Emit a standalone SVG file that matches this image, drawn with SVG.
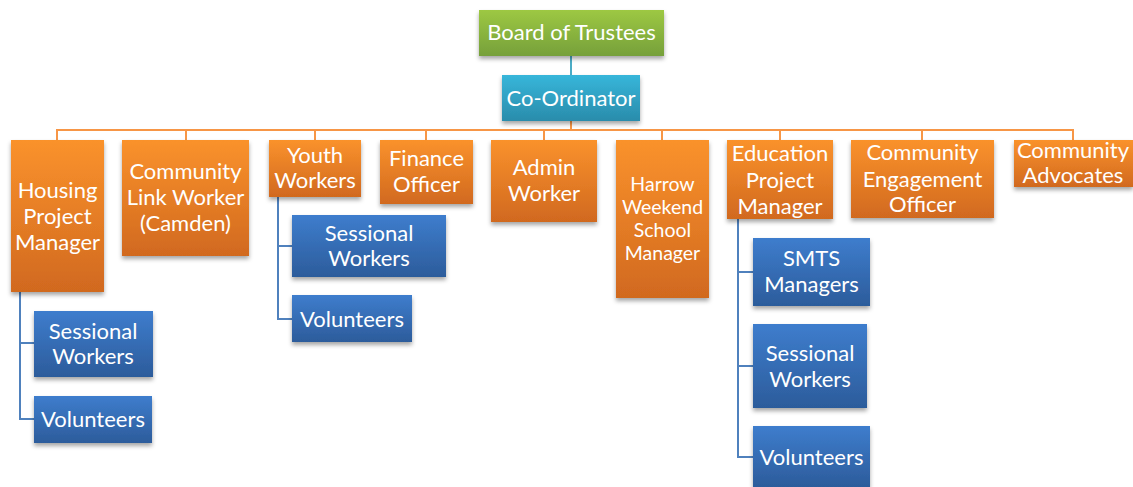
<svg xmlns="http://www.w3.org/2000/svg" width="1133" height="487" viewBox="0 0 1133 487">
<defs>
<linearGradient id="gOr" x1="0" y1="0" x2="0" y2="1"><stop offset="0" stop-color="#FA922C"/><stop offset="1" stop-color="#D1691F"/></linearGradient>
<linearGradient id="gBl" x1="0" y1="0" x2="0" y2="1"><stop offset="0" stop-color="#3E7DCD"/><stop offset="1" stop-color="#2C5C9B"/></linearGradient>
<linearGradient id="gGr" x1="0" y1="0" x2="0" y2="1"><stop offset="0" stop-color="#9DC843"/><stop offset="1" stop-color="#76A03A"/></linearGradient>
<linearGradient id="gTe" x1="0" y1="0" x2="0" y2="1"><stop offset="0" stop-color="#37B6DA"/><stop offset="1" stop-color="#2A8CAB"/></linearGradient>
<filter id="sh" x="-10%" y="-10%" width="120%" height="130%"><feDropShadow dx="0" dy="3" stdDeviation="2" flood-color="#000" flood-opacity="0.35"/></filter>
</defs>
<style>
text{font-family:Lato,"Noto Sans","Liberation Sans",sans-serif;fill:#fff;text-anchor:middle;font-size:22px}
.sm{font-size:19.5px}
.or{fill:url(#gOr);filter:url(#sh)}
.bl{fill:url(#gBl);filter:url(#sh)}
.oc{stroke:#F79646;stroke-width:2;fill:none}
.bc{stroke:#4F81BD;stroke-width:2;fill:none}
</style>
<rect width="1133" height="487" fill="#fff"/>
<g id="connectors">
<path class="bc" d="M571 56V76" style="stroke:#4BACC6"/>
<path class="oc" d="M571 121V130M57 140V130H1073V140M186 130V140M315 130V140M426 130V140M544 130V140M662 130V140M780 130V140M922 130V140"/>
<path class="bc" d="M20 292V419H34M20 343H34"/>
<path class="bc" d="M278 197V319H292M278 246H292"/>
<path class="bc" d="M738 218V457H753M738 272H753M738 366H753"/>
</g>
<g id="board"><rect x="479" y="10" width="185" height="46" fill="url(#gGr)" filter="url(#sh)"/><text x="571.5" y="40">Board of Trustees</text></g>
<g id="coordinator"><rect x="502" y="75" width="138" height="46" fill="url(#gTe)" filter="url(#sh)"/><text x="571" y="106">Co-Ordinator</text></g>
<g id="housing"><rect class="or" x="11" y="140" width="93" height="152"/><text x="57.5" y="198">Housing</text><text x="57.5" y="224">Project</text><text x="57.5" y="250">Manager</text></g>
<g id="commlink"><rect class="or" x="122" y="140" width="127" height="116"/><text x="185.5" y="179">Community</text><text x="185.5" y="205">Link Worker</text><text x="185.5" y="231">(Camden)</text></g>
<g id="youth"><rect class="or" x="269" y="140" width="92" height="57"/><text x="315" y="163">Youth</text><text x="315" y="188">Workers</text></g>
<g id="finance"><rect class="or" x="380" y="140" width="93" height="64"/><text x="426.5" y="166">Finance</text><text x="426.5" y="192">Officer</text></g>
<g id="admin"><rect class="or" x="491" y="140" width="106" height="82"/><text x="544" y="175">Admin</text><text x="544" y="201">Worker</text></g>
<g id="harrow"><rect class="or" x="616" y="140" width="93" height="158"/><text class="sm" x="662.5" y="191">Harrow</text><text class="sm" x="662.5" y="214">Weekend</text><text class="sm" x="662.5" y="237">School</text><text class="sm" x="662.5" y="260">Manager</text></g>
<g id="education"><rect class="or" x="727" y="140" width="106" height="79"/><text x="780" y="161">Education</text><text x="780" y="188">Project</text><text x="780" y="214">Manager</text></g>
<g id="engagement"><rect class="or" x="851" y="140" width="143" height="78"/><text x="922.5" y="160">Community</text><text x="922.5" y="187">Engagement</text><text x="922.5" y="212">Officer</text></g>
<g id="advocates"><rect class="or" x="1014" y="140" width="119" height="47"/><text x="1073" y="158">Community</text><text x="1073" y="183">Advocates</text></g>
<g id="housing-sessional"><rect class="bl" x="34" y="311" width="119" height="66"/><text x="93" y="339">Sessional</text><text x="93" y="364">Workers</text></g>
<g id="housing-volunteers"><rect class="bl" x="34" y="396" width="118" height="47"/><text x="93" y="427">Volunteers</text></g>
<g id="youth-sessional"><rect class="bl" x="292" y="215" width="154" height="62"/><text x="369" y="241">Sessional</text><text x="369" y="266">Workers</text></g>
<g id="youth-volunteers"><rect class="bl" x="292" y="295" width="120" height="47"/><text x="352" y="327">Volunteers</text></g>
<g id="smts"><rect class="bl" x="753" y="238" width="117" height="68"/><text x="811.5" y="266">SMTS</text><text x="811.5" y="292">Managers</text></g>
<g id="edu-sessional"><rect class="bl" x="753" y="324" width="114" height="84"/><text x="810" y="361">Sessional</text><text x="810" y="387">Workers</text></g>
<g id="edu-volunteers"><rect class="bl" x="753" y="426" width="117" height="61"/><text x="811.5" y="465">Volunteers</text></g>
</svg>
